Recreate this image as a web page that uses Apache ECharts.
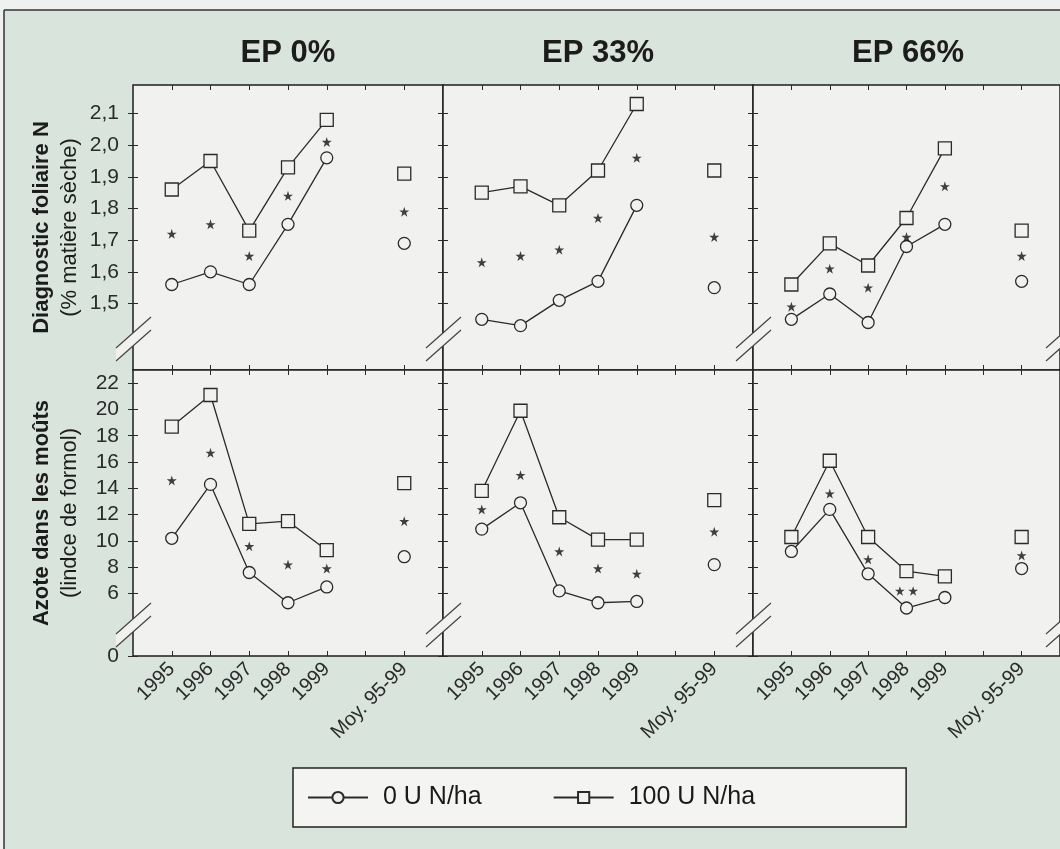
<!DOCTYPE html>
<html><head><meta charset="utf-8">
<script src="https://cdn.jsdelivr.net/npm/echarts@6/dist/echarts.min.js"></script>
<style>html,body{margin:0;padding:0;background:#eef1ef;overflow:hidden}#c{width:1060px;height:849px}</style>
</head><body><div id="c"></div>
<script>
// ---------- DATA ----------
const xTickLabels = ['1995','1996','1997','1998','1999','','Moy. 95-99'];
const panelTitles = ['EP 0%','EP 33%','EP 66%'];
const legendNames = ['0 U N/ha','100 U N/ha'];
const diagTicks = [1.5,1.6,1.7,1.8,1.9,2.0,2.1];
const azoteTicks = [0,6,8,10,12,14,16,18,20,22];

// Diagnostic foliaire N (% matière sèche)
const diagEP0_0N    = [1.56,1.60,1.56,1.75,1.96,null,1.69];
const diagEP0_100N  = [1.86,1.95,1.73,1.93,2.08,null,1.91];
const diagEP0_star  = [1.72,1.75,1.65,1.84,2.01,null,1.79];
const diagEP33_0N   = [1.45,1.43,1.51,1.57,1.81,null,1.55];
const diagEP33_100N = [1.85,1.87,1.81,1.92,2.13,null,1.92];
const diagEP33_star = [1.63,1.65,1.67,1.77,1.96,null,1.71];
const diagEP66_0N   = [1.45,1.53,1.44,1.68,1.75,null,1.57];
const diagEP66_100N = [1.56,1.69,1.62,1.77,1.99,null,1.73];
const diagEP66_star = [1.49,1.61,1.55,1.71,1.87,null,1.65];

// Azote dans les moûts (indice de formol)
const azoteEP0_0N    = [10.2,14.3,7.6,5.3,6.5,null,8.8];
const azoteEP0_100N  = [18.7,21.1,11.3,11.5,9.3,null,14.4];
const azoteEP0_star  = [14.6,16.7,9.6,8.2,7.9,null,11.5];
const azoteEP33_0N   = [10.9,12.9,6.2,5.3,5.4,null,8.2];
const azoteEP33_100N = [13.8,19.9,11.8,10.1,10.1,null,13.1];
const azoteEP33_star = [12.4,15.0,9.2,7.9,7.5,null,10.7];
const azoteEP66_0N   = [9.2,12.4,7.5,4.9,5.7,null,7.9];
const azoteEP66_100N = [10.3,16.1,10.3,7.7,7.3,null,10.3];
const azoteEP66_star = [null,13.6,8.6,6.2,null,null,8.9];
const azoteEP66_starCount = [0,1,1,2,0,0,1];

// ---------- STYLE / LAYOUT ----------
const FONT = "'Liberation Sans', Arial, Helvetica, sans-serif";
const INK = '#2a2a2a';
const PANEL = '#f1f2ef';
const BG = '#d9e4dd';
const GL = [133, 443, 753], GW = 310;
const GT = [85, 370], GH = [285, 286];
const diagMin = 1.29, diagMax = 2.19;
const azoteMin = 1.25, azoteMax = 23;   // axis broken below 6: "0" shown at the break

const STAR = 'path://M50,0L61.2,34.5L97.6,34.5L68.2,55.9L79.4,90.5L50,69.1L20.6,90.5L31.8,55.9L2.4,34.5L38.8,34.5Z';
const STAR2 = 'path://M50,0L61.2,34.5L97.6,34.5L68.2,55.9L79.4,90.5L50,69.1L20.6,90.5L31.8,55.9L2.4,34.5L38.8,34.5Z' +
  'M180,0L191.2,34.5L227.6,34.5L198.2,55.9L209.4,90.5L180,69.1L150.6,90.5L161.8,55.9L132.4,34.5L168.8,34.5Z';

const rows = [
  { zero:[diagEP0_0N,diagEP33_0N,diagEP66_0N], hundred:[diagEP0_100N,diagEP33_100N,diagEP66_100N],
    stars:[diagEP0_star,diagEP33_star,diagEP66_star], counts:[null,null,null],
    min:diagMin, max:diagMax, ticks:diagTicks.slice(),
    fmt: v => v.toFixed(1).replace('.', ',') },
  { zero:[azoteEP0_0N,azoteEP33_0N,azoteEP66_0N], hundred:[azoteEP0_100N,azoteEP33_100N,azoteEP66_100N],
    stars:[azoteEP0_star,azoteEP33_star,azoteEP66_star], counts:[null,null,azoteEP66_starCount],
    min:azoteMin, max:azoteMax, ticks:azoteTicks.map(t => t === 0 ? azoteMin : t),
    fmt: v => (v < 3 ? '0' : String(Math.round(v))) }
];

const grids = [], xAxes = [], yAxes = [], series = [];
const toXY = arr => arr.map((v, i) => [i + 1, v == null ? '-' : v]);

rows.forEach((row, r) => {
  for (let c = 0; c < 3; c++) {
    const g = r * 3 + c;
    grids.push({ left: GL[c], top: GT[r], width: GW, height: GH[r], show: true,
      backgroundColor: PANEL, borderColor: '#1e1e1e', borderWidth: 1.5 });
    const xTick = { show: true, inside: true, length: 5, lineStyle: { color: INK, width: 1 }, customValues: [1,2,3,4,5,6,7] };
    xAxes.push({ gridIndex: g, type: 'value', min: 0, max: 8, position: 'bottom',
      axisLine: { show: false }, splitLine: { show: false }, axisTick: xTick,
      axisLabel: { show: r === 1, customValues: [1,2,3,4,5,7], formatter: v => xTickLabels[Math.round(v) - 1],
        rotate: 45, fontSize: 20, color: INK, fontFamily: FONT, margin: 10 } });
    xAxes.push({ gridIndex: g, type: 'value', min: 0, max: 8, position: 'top',
      axisLine: { show: false }, splitLine: { show: false }, axisTick: xTick, axisLabel: { show: false } });
    const yTick = { show: true, inside: true, length: 5, lineStyle: { color: INK, width: 1 }, customValues: row.ticks };
    yAxes.push({ gridIndex: g, type: 'value', min: row.min, max: row.max, position: 'left',
      axisLine: { show: false }, splitLine: { show: false }, axisTick: yTick,
      axisLabel: { show: c === 0, customValues: row.ticks, formatter: row.fmt,
        fontSize: 21, color: INK, fontFamily: FONT, margin: 14 } });
    yAxes.push({ gridIndex: g, type: 'value', min: row.min, max: row.max, position: 'right',
      axisLine: { show: false }, splitLine: { show: false }, axisTick: yTick, axisLabel: { show: false } });

    const common = { type: 'line', xAxisIndex: 2 * g, yAxisIndex: 2 * g, connectNulls: false,
      showAllSymbol: true, animation: false, silent: true, z: 3,
      lineStyle: { color: INK, width: 1.3 },
      itemStyle: { color: PANEL, borderColor: INK, borderWidth: 1.3 } };
    series.push(Object.assign({}, common, { name: legendNames[0], data: toXY(row.zero[c]),
      symbol: 'circle', symbolSize: 12 }));
    series.push(Object.assign({}, common, { name: legendNames[1], data: toXY(row.hundred[c]),
      symbol: 'rect', symbolSize: 13 }));
    const cnt = row.counts[c];
    const starData = [];
    row.stars[c].forEach((v, i) => {
      if (v == null) return;
      if (cnt && cnt[i] === 2) starData.push({ value: [i + 1, v], symbol: STAR2, symbolSize: [23, 9.5] });
      else starData.push({ value: [i + 1, v] });
    });
    series.push({ type: 'scatter', name: 'signif', xAxisIndex: 2 * g, yAxisIndex: 2 * g,
      data: starData, symbol: STAR, symbolSize: 10, itemStyle: { color: '#111' },
      animation: false, silent: true, z: 4 });
  }
});

// ---------- decorations ----------
const graphic = [
  { type: 'rect', shape: { x: 0, y: 0, width: 1060, height: 10 }, style: { fill: '#eef1ef' }, silent: true },
  { type: 'rect', shape: { x: 0, y: 0, width: 4, height: 849 }, style: { fill: '#eef1ef' }, silent: true },
  { type: 'line', shape: { x1: 4, y1: 10, x2: 1060, y2: 10 }, style: { stroke: '#333', lineWidth: 1.5 }, silent: true },
  { type: 'line', shape: { x1: 4, y1: 10, x2: 4, y2: 849 }, style: { stroke: '#333', lineWidth: 1.5 }, silent: true }
];
panelTitles.forEach((t, c) => {
  graphic.push({ type: 'text', x: GL[c] + GW / 2, y: 53, silent: true,
    style: { text: t, fontSize: 31, fontWeight: 'bold', fontFamily: FONT, fill: '#1c1c1c', align: 'center', verticalAlign: 'middle' } });
});
const yNames = [['Diagnostic foliaire N', '(% matière sèche)'], ['Azote dans les moûts', '(lindce de formol)']];
yNames.forEach((nm, r) => {
  const cy = GT[r] + GH[r] / 2;
  graphic.push({ type: 'text', x: 42, y: cy, rotation: Math.PI / 2, silent: true,
    style: { text: nm[0], fontSize: 22, fontWeight: 'bold', fontFamily: FONT, fill: '#1c1c1c', align: 'center', verticalAlign: 'middle' } });
  graphic.push({ type: 'text', x: 70, y: cy, rotation: Math.PI / 2, silent: true,
    style: { text: nm[1], fontSize: 22, fontFamily: FONT, fill: '#1c1c1c', align: 'center', verticalAlign: 'middle' } });
});
// axis-break marks "//" on each panel boundary
[0, 1].forEach(r => {
  const yb = GT[r] + GH[r];
  [133, 443, 753, 1063].forEach(x => {
    graphic.push({ type: 'polygon', z: 100, silent: true,
      shape: { points: [[x - 17, yb - 22], [x + 18, yb - 53], [x + 18, yb - 40], [x - 17, yb - 9]] },
      style: { fill: PANEL } });
    graphic.push({ type: 'line', z: 101, silent: true, shape: { x1: x - 17, y1: yb - 22, x2: x + 18, y2: yb - 53 },
      style: { stroke: '#444', lineWidth: 1.2 } });
    graphic.push({ type: 'line', z: 101, silent: true, shape: { x1: x - 17, y1: yb - 9, x2: x + 18, y2: yb - 40 },
      style: { stroke: '#444', lineWidth: 1.2 } });
  });
});

const chart = echarts.init(document.getElementById('c'), null, { renderer: 'canvas' });
chart.setOption({
  backgroundColor: BG,
  animation: false,
  grid: grids, xAxis: xAxes, yAxis: yAxes, series: series,
  legend: { data: legendNames, left: 293, top: 768, orient: 'horizontal', selectedMode: false,
    itemWidth: 60, itemHeight: 14, itemGap: 71, padding: [17, 151, 17, 14],
    backgroundColor: '#f4f5f3', borderColor: '#222', borderWidth: 1.5,
    textStyle: { fontSize: 25, color: '#1a1a1a', fontFamily: FONT, padding: [0, 0, 0, 10] } },
  graphic: graphic
});
</script></body></html>
